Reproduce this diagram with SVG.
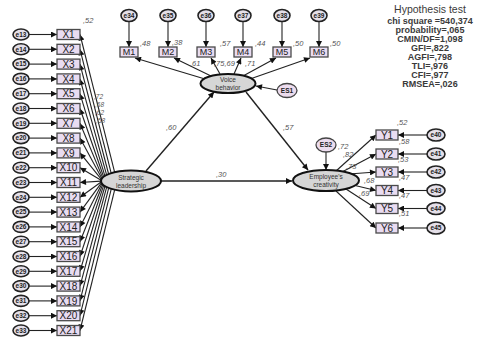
<svg xmlns="http://www.w3.org/2000/svg" width="493" height="343" viewBox="0 0 493 343">
<defs>
<marker id="ah" viewBox="0 0 10 10" refX="10" refY="5" markerWidth="8" markerHeight="6" markerUnits="userSpaceOnUse" orient="auto"><path d="M0,0 L10,5 L0,10 z" fill="#111"/></marker>
<style>
.box{fill:#e9dcf1;stroke:#4a4a4a;stroke-width:1.3}
.err{fill:#e4dfe8;stroke:#222;stroke-width:1.6}
.es{fill:#ecdcee;stroke:#444;stroke-width:1.3}
.lat{fill:#d6d6d6;stroke:#111;stroke-width:2}
.c line{stroke:#222;stroke-width:1.1;marker-end:url(#ah)}
.c line.t{stroke-width:1.4}
text{font-family:"Liberation Sans",Arial,sans-serif}
.bt{font-size:10px;fill:#222;text-anchor:middle}
.mt{font-size:9px;fill:#222;text-anchor:middle}
.et{font-size:6.5px;font-weight:bold;fill:#222;text-anchor:middle}
.lt{font-size:6.5px;fill:#333;text-anchor:middle}
.n{font-size:7.5px;fill:#555;font-style:italic}
.s{font-size:6.5px;fill:#555;font-style:italic}
.h{font-size:9px;font-weight:bold;fill:#3a3a3a;text-anchor:middle}
</style>
</defs>
<g id="connectors" class="c">
<line x1="29" y1="34.5" x2="57" y2="34.5"/><line x1="29" y1="49.3" x2="57" y2="49.3"/><line x1="29" y1="64.1" x2="57" y2="64.1"/><line x1="29" y1="78.9" x2="57" y2="78.9"/><line x1="29" y1="93.7" x2="57" y2="93.7"/><line x1="29" y1="108.5" x2="57" y2="108.5"/><line x1="29" y1="123.3" x2="57" y2="123.3"/><line x1="29" y1="138.1" x2="57" y2="138.1"/><line x1="29" y1="152.9" x2="57" y2="152.9"/><line x1="29" y1="167.7" x2="57" y2="167.7"/><line x1="29" y1="182.5" x2="57" y2="182.5"/><line x1="29" y1="197.3" x2="57" y2="197.3"/><line x1="29" y1="212.1" x2="57" y2="212.1"/><line x1="29" y1="226.9" x2="57" y2="226.9"/><line x1="29" y1="241.7" x2="57" y2="241.7"/><line x1="29" y1="256.5" x2="57" y2="256.5"/><line x1="29" y1="271.3" x2="57" y2="271.3"/><line x1="29" y1="286.1" x2="57" y2="286.1"/><line x1="29" y1="300.9" x2="57" y2="300.9"/><line x1="29" y1="315.7" x2="57" y2="315.7"/><line x1="29" y1="330.5" x2="57" y2="330.5"/>
<line x1="114.6" y1="172.2" x2="80" y2="34.5"/><line x1="111.2" y1="173.1" x2="80" y2="49.3"/><line x1="108.6" y1="174" x2="80" y2="64.1"/><line x1="106.6" y1="174.9" x2="80" y2="78.9"/><line x1="104.9" y1="175.8" x2="80" y2="93.7"/><line x1="103.6" y1="176.7" x2="80" y2="108.5"/><line x1="102.6" y1="177.6" x2="80" y2="123.3"/><line x1="101.9" y1="178.5" x2="80" y2="138.1"/><line x1="101.4" y1="179.4" x2="80" y2="152.9"/><line x1="101.1" y1="180.2" x2="80" y2="167.7"/><line x1="101" y1="181.1" x2="80" y2="182.5"/><line x1="101.1" y1="182" x2="80" y2="197.3"/><line x1="101.4" y1="182.9" x2="80" y2="212.1"/><line x1="101.9" y1="183.8" x2="80" y2="226.9"/><line x1="102.6" y1="184.7" x2="80" y2="241.7"/><line x1="103.6" y1="185.6" x2="80" y2="256.5"/><line x1="104.9" y1="186.5" x2="80" y2="271.3"/><line x1="106.6" y1="187.4" x2="80" y2="286.1"/><line x1="108.6" y1="188.3" x2="80" y2="300.9"/><line x1="111.2" y1="189.2" x2="80" y2="315.7"/><line x1="114.6" y1="190.1" x2="80" y2="330.5"/>
<line x1="129" y1="21.5" x2="129" y2="47"/><line x1="168" y1="21.5" x2="168" y2="47"/><line x1="206" y1="21.5" x2="206" y2="47"/><line x1="243" y1="21.5" x2="243" y2="47"/><line x1="282" y1="21.5" x2="282" y2="47"/><line x1="319" y1="21.5" x2="319" y2="47"/>
<line x1="205" y1="79" x2="135" y2="58"/><line x1="211" y1="76" x2="174" y2="58"/><line x1="220" y1="74" x2="211" y2="58"/><line x1="234" y1="74" x2="241" y2="58"/><line x1="243" y1="76" x2="276" y2="58"/><line x1="250" y1="79" x2="310" y2="58"/>
<line class="t" x1="146" y1="171" x2="214" y2="92"/>
<line class="t" x1="161" y1="181" x2="292" y2="181"/>
<line class="t" x1="246" y1="92" x2="308" y2="170"/>
<line x1="277" y1="90" x2="256" y2="86"/>
<line x1="326" y1="152" x2="326" y2="170"/>
<line x1="336" y1="171" x2="376" y2="135"/><line x1="342" y1="172" x2="376" y2="154"/><line x1="349" y1="174" x2="376" y2="172"/><line x1="353" y1="185" x2="376" y2="190.5"/><line x1="346" y1="189" x2="376" y2="208.5"/><line x1="336" y1="191" x2="376" y2="228"/>
<line x1="427" y1="135" x2="398" y2="135"/><line x1="427" y1="154" x2="398" y2="154"/><line x1="427" y1="172" x2="398" y2="172"/><line x1="427" y1="190.5" x2="398" y2="190.5"/><line x1="427" y1="208.5" x2="398" y2="208.5"/><line x1="427" y1="228" x2="398" y2="228"/>
</g>
<g id="x-items">
<g id="X1"><ellipse class="err" cx="21" cy="34.5" rx="8" ry="5.5"/><text class="et" x="21" y="36.8">e13</text><rect class="box" x="57" y="29.5" width="23" height="10"/><text class="bt" x="68.5" y="38.2">X1</text></g>
<g id="X2"><ellipse class="err" cx="21" cy="49.3" rx="8" ry="5.5"/><text class="et" x="21" y="51.6">e14</text><rect class="box" x="57" y="44.3" width="23" height="10"/><text class="bt" x="68.5" y="53">X2</text></g>
<g id="X3"><ellipse class="err" cx="21" cy="64.1" rx="8" ry="5.5"/><text class="et" x="21" y="66.4">e15</text><rect class="box" x="57" y="59.1" width="23" height="10"/><text class="bt" x="68.5" y="67.8">X3</text></g>
<g id="X4"><ellipse class="err" cx="21" cy="78.9" rx="8" ry="5.5"/><text class="et" x="21" y="81.2">e16</text><rect class="box" x="57" y="73.9" width="23" height="10"/><text class="bt" x="68.5" y="82.6">X4</text></g>
<g id="X5"><ellipse class="err" cx="21" cy="93.7" rx="8" ry="5.5"/><text class="et" x="21" y="96">e17</text><rect class="box" x="57" y="88.7" width="23" height="10"/><text class="bt" x="68.5" y="97.4">X5</text></g>
<g id="X6"><ellipse class="err" cx="21" cy="108.5" rx="8" ry="5.5"/><text class="et" x="21" y="110.8">e18</text><rect class="box" x="57" y="103.5" width="23" height="10"/><text class="bt" x="68.5" y="112.2">X6</text></g>
<g id="X7"><ellipse class="err" cx="21" cy="123.3" rx="8" ry="5.5"/><text class="et" x="21" y="125.6">e19</text><rect class="box" x="57" y="118.3" width="23" height="10"/><text class="bt" x="68.5" y="127">X7</text></g>
<g id="X8"><ellipse class="err" cx="21" cy="138.1" rx="8" ry="5.5"/><text class="et" x="21" y="140.4">e20</text><rect class="box" x="57" y="133.1" width="23" height="10"/><text class="bt" x="68.5" y="141.8">X8</text></g>
<g id="X9"><ellipse class="err" cx="21" cy="152.9" rx="8" ry="5.5"/><text class="et" x="21" y="155.2">e21</text><rect class="box" x="57" y="147.9" width="23" height="10"/><text class="bt" x="68.5" y="156.6">X9</text></g>
<g id="X10"><ellipse class="err" cx="21" cy="167.7" rx="8" ry="5.5"/><text class="et" x="21" y="170">e22</text><rect class="box" x="57" y="162.7" width="23" height="10"/><text class="bt" x="68.5" y="171.4">X10</text></g>
<g id="X11"><ellipse class="err" cx="21" cy="182.5" rx="8" ry="5.5"/><text class="et" x="21" y="184.8">e23</text><rect class="box" x="57" y="177.5" width="23" height="10"/><text class="bt" x="68.5" y="186.2">X11</text></g>
<g id="X12"><ellipse class="err" cx="21" cy="197.3" rx="8" ry="5.5"/><text class="et" x="21" y="199.6">e24</text><rect class="box" x="57" y="192.3" width="23" height="10"/><text class="bt" x="68.5" y="201">X12</text></g>
<g id="X13"><ellipse class="err" cx="21" cy="212.1" rx="8" ry="5.5"/><text class="et" x="21" y="214.4">e25</text><rect class="box" x="57" y="207.1" width="23" height="10"/><text class="bt" x="68.5" y="215.8">X13</text></g>
<g id="X14"><ellipse class="err" cx="21" cy="226.9" rx="8" ry="5.5"/><text class="et" x="21" y="229.2">e26</text><rect class="box" x="57" y="221.9" width="23" height="10"/><text class="bt" x="68.5" y="230.6">X14</text></g>
<g id="X15"><ellipse class="err" cx="21" cy="241.7" rx="8" ry="5.5"/><text class="et" x="21" y="244">e27</text><rect class="box" x="57" y="236.7" width="23" height="10"/><text class="bt" x="68.5" y="245.4">X15</text></g>
<g id="X16"><ellipse class="err" cx="21" cy="256.5" rx="8" ry="5.5"/><text class="et" x="21" y="258.8">e28</text><rect class="box" x="57" y="251.5" width="23" height="10"/><text class="bt" x="68.5" y="260.2">X16</text></g>
<g id="X17"><ellipse class="err" cx="21" cy="271.3" rx="8" ry="5.5"/><text class="et" x="21" y="273.6">e29</text><rect class="box" x="57" y="266.3" width="23" height="10"/><text class="bt" x="68.5" y="275">X17</text></g>
<g id="X18"><ellipse class="err" cx="21" cy="286.1" rx="8" ry="5.5"/><text class="et" x="21" y="288.4">e30</text><rect class="box" x="57" y="281.1" width="23" height="10"/><text class="bt" x="68.5" y="289.8">X18</text></g>
<g id="X19"><ellipse class="err" cx="21" cy="300.9" rx="8" ry="5.5"/><text class="et" x="21" y="303.2">e31</text><rect class="box" x="57" y="295.9" width="23" height="10"/><text class="bt" x="68.5" y="304.6">X19</text></g>
<g id="X20"><ellipse class="err" cx="21" cy="315.7" rx="8" ry="5.5"/><text class="et" x="21" y="318">e32</text><rect class="box" x="57" y="310.7" width="23" height="10"/><text class="bt" x="68.5" y="319.4">X20</text></g>
<g id="X21"><ellipse class="err" cx="21" cy="330.5" rx="8" ry="5.5"/><text class="et" x="21" y="332.8">e33</text><rect class="box" x="57" y="325.5" width="23" height="10"/><text class="bt" x="68.5" y="334.2">X21</text></g>
</g>
<g id="m-items">
<g id="M1"><ellipse class="err" cx="129" cy="15.5" rx="8" ry="6"/><text class="et" x="129" y="17.8">e34</text><rect class="box" x="120" y="47" width="18" height="10"/><text class="mt" x="129" y="55.4">M1</text></g>
<g id="M2"><ellipse class="err" cx="168" cy="15.5" rx="8" ry="6"/><text class="et" x="168" y="17.8">e35</text><rect class="box" x="159" y="47" width="18" height="10"/><text class="mt" x="168" y="55.4">M2</text></g>
<g id="M3"><ellipse class="err" cx="206" cy="15.5" rx="8" ry="6"/><text class="et" x="206" y="17.8">e36</text><rect class="box" x="197" y="47" width="18" height="10"/><text class="mt" x="206" y="55.4">M3</text></g>
<g id="M4"><ellipse class="err" cx="243" cy="15.5" rx="8" ry="6"/><text class="et" x="243" y="17.8">e37</text><rect class="box" x="234" y="47" width="18" height="10"/><text class="mt" x="243" y="55.4">M4</text></g>
<g id="M5"><ellipse class="err" cx="282" cy="15.5" rx="8" ry="6"/><text class="et" x="282" y="17.8">e38</text><rect class="box" x="273" y="47" width="18" height="10"/><text class="mt" x="282" y="55.4">M5</text></g>
<g id="M6"><ellipse class="err" cx="319" cy="15.5" rx="8" ry="6"/><text class="et" x="319" y="17.8">e39</text><rect class="box" x="310" y="47" width="18" height="10"/><text class="mt" x="319" y="55.4">M6</text></g>
</g>
<g id="y-items">
<g id="Y1"><rect class="box" x="376" y="130" width="22" height="10"/><text class="bt" x="387" y="138.7">Y1</text><ellipse class="err" cx="436" cy="135" rx="9" ry="6"/><text class="et" x="436" y="137.3">e40</text></g>
<g id="Y2"><rect class="box" x="376" y="149" width="22" height="10"/><text class="bt" x="387" y="157.7">Y2</text><ellipse class="err" cx="436" cy="154" rx="9" ry="6"/><text class="et" x="436" y="156.3">e41</text></g>
<g id="Y3"><rect class="box" x="376" y="167" width="22" height="10"/><text class="bt" x="387" y="175.7">Y3</text><ellipse class="err" cx="436" cy="172" rx="9" ry="6"/><text class="et" x="436" y="174.3">e42</text></g>
<g id="Y4"><rect class="box" x="376" y="185.5" width="22" height="10"/><text class="bt" x="387" y="194.2">Y4</text><ellipse class="err" cx="436" cy="190.5" rx="9" ry="6"/><text class="et" x="436" y="192.8">e43</text></g>
<g id="Y5"><rect class="box" x="376" y="203.5" width="22" height="10"/><text class="bt" x="387" y="212.2">Y5</text><ellipse class="err" cx="436" cy="208.5" rx="9" ry="6"/><text class="et" x="436" y="210.8">e44</text></g>
<g id="Y6"><rect class="box" x="376" y="223" width="22" height="10"/><text class="bt" x="387" y="231.7">Y6</text><ellipse class="err" cx="436" cy="228" rx="9" ry="6"/><text class="et" x="436" y="230.3">e45</text></g>
</g>
<g id="strategic-leadership"><ellipse class="lat" cx="131" cy="181" rx="30" ry="10.5"/><text class="lt" x="131" y="179.5">Strategic</text><text class="lt" x="131" y="187.5">leadership</text></g>
<g id="voice-behavior"><ellipse class="lat" cx="228" cy="83.5" rx="27.5" ry="9.5"/><text class="lt" x="228" y="82">Voice</text><text class="lt" x="228" y="90">behavior</text></g>
<g id="employee-creativity"><ellipse class="lat" cx="326" cy="180.5" rx="33" ry="10.5"/><text class="lt" x="326" y="179">Employee's</text><text class="lt" x="326" y="187">creativity</text></g>
<g id="ES1"><ellipse class="es" cx="287" cy="90.5" rx="10" ry="7"/><text class="et" x="287" y="92.8">ES1</text></g>
<g id="ES2"><ellipse class="es" cx="326" cy="145" rx="10" ry="7"/><text class="et" x="326" y="147.3">ES2</text></g>
<g id="labels">
<text class="n" x="166" y="130">,60</text>
<text class="n" x="216" y="177">,30</text>
<text class="n" x="283" y="130">,57</text>
<text class="n" x="83" y="23">,52</text>
<text class="s" x="94" y="99">,72</text>
<text class="s" x="95" y="107">,68</text>
<text class="s" x="95" y="115">,62</text>
<text class="s" x="96" y="123">,58</text>
<text class="n" x="140" y="46">,48</text>
<text class="n" x="172" y="45">,38</text>
<text class="n" x="220" y="46">,57</text>
<text class="n" x="255" y="46">,44</text>
<text class="n" x="293" y="46">,50</text>
<text class="n" x="330" y="46">,50</text>
<text class="n" x="190" y="66">,61</text>
<text class="n" x="214" y="66">,75,69</text>
<text class="n" x="245" y="66">,71</text>
<text class="n" x="338" y="149">,72</text>
<text class="n" x="343" y="157">,82</text>
<text class="n" x="346" y="169">,73</text>
<text class="n" x="364" y="183">,68</text>
<text class="n" x="359" y="196">,69</text>
<text class="n" x="397" y="125">,52</text>
<text class="n" x="399" y="144">,58</text>
<text class="n" x="398" y="162">,53</text>
<text class="n" x="399" y="180">,47</text>
<text class="n" x="399" y="198">,47</text>
<text class="n" x="399" y="216">,51</text>
</g>
<g id="hypothesis-test">
<text class="h" x="430" y="13" style="font-size:10.5px;font-weight:normal">Hypothesis test</text>
<text class="h" x="430" y="24">chi square =540,374</text>
<text class="h" x="430" y="33">probability=,065</text>
<text class="h" x="430" y="42">CMIN/DF=1,098</text>
<text class="h" x="430" y="51">GFI=,822</text>
<text class="h" x="430" y="60">AGFI=,798</text>
<text class="h" x="430" y="69">TLI=,976</text>
<text class="h" x="430" y="78">CFI=,977</text>
<text class="h" x="430" y="87">RMSEA=,026</text>
</g>
</svg>
